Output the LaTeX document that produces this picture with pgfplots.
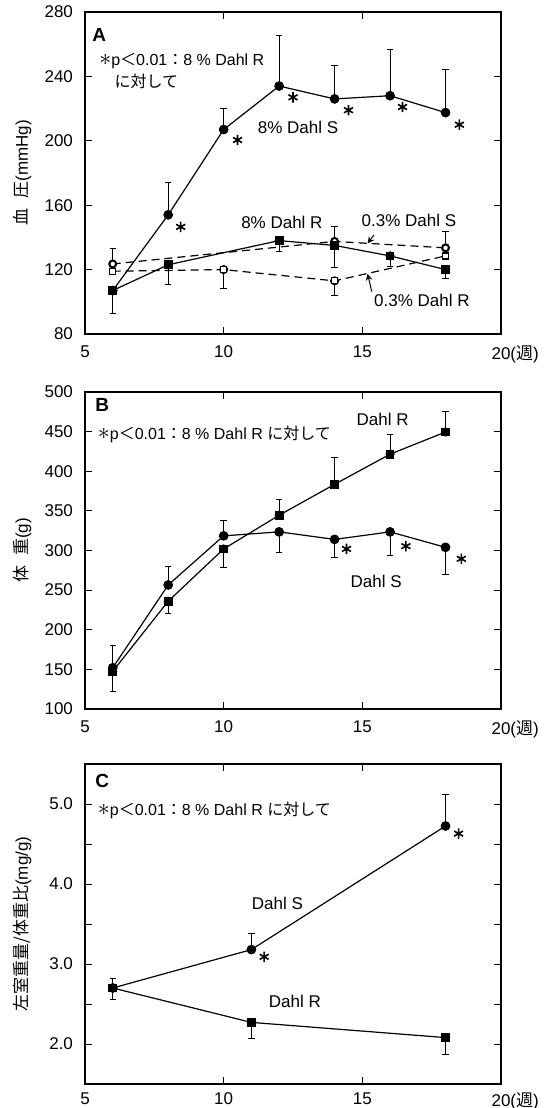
\documentclass[border=0pt]{standalone}
\usepackage{fontspec}
\setmainfont{Liberation Sans}
\newfontfamily\jp{Noto Sans CJK JP}
\usepackage{pgfplots}
\pgfplotsset{compat=1.18}

\newcommand{\sig}{\smash{\fontsize{12}{12}\selectfont$\ast$}}
\newcommand{\note}{\sig p{\jp ＜}0.01{\jp ：}8 \% Dahl R}

\tikzset{
  lab/.style={font=\fontsize{8.5}{10}\selectfont, inner sep=0pt},
  notes/.style={font=\fontsize{8}{10}\selectfont, inner sep=0pt, anchor=west},
  letter/.style={font=\fontsize{9.5}{11}\selectfont\bfseries, inner sep=0pt, anchor=west},
}

\pgfplotsset{
  panel/.style={
    scale only axis,
    width=208pt,
    xmin=5, xmax=20,
    xtick={5,10,15,20},
    xticklabels={5,10,15,{20\rlap{({\jp 週})}}},
    tick align=inside,
    major tick length=3.5pt,
    minor tick length=3.5pt,
    axis line style={line width=0.6pt},
    every tick/.style={line width=0.5pt, black},
    tick label style={font=\fontsize{8.5}{10}\selectfont},
    xticklabel style={yshift=-2.5pt},
    yticklabel style={xshift=-2.5pt},
    /pgf/number format/assume math mode=true,
    ylabel style={at={(axis description cs:-0.15,0.5)}, anchor=center,
                  font=\fontsize{8.5}{10}\selectfont},
    clip=false,
  },
  errs/.style={black, line width=0.5pt, mark=none, only marks, forget plot,
    error bars/.cd, y dir=#1, y explicit,
    error bar style={line width=0.5pt, solid},
    error mark options={rotate=90, mark size=1.6pt, line width=0.5pt}},
  fcirc/.style={black, line width=0.6pt, mark=*, mark size=2.1pt},
  fsq/.style={black, line width=0.6pt, mark=square*, mark size=1.9pt},
  ocirc/.style={black, line width=0.6pt, dash pattern=on 4pt off 2.5pt,
    mark=*, mark size=1.5pt, mark options={solid, fill=white}},
  osq/.style={black, line width=0.6pt, dash pattern=on 4pt off 2.5pt,
    mark=square*, mark size=1.5pt, mark options={solid, fill=white}},
  stars/.style={black, only marks, mark=asterisk, mark size=2.6pt,
    mark options={line width=0.8pt}},
}

\begin{document}
\begin{tikzpicture}
\path[use as bounding box] (0,0) rectangle (274.5pt,554pt);

% ---------- A: blood pressure ----------
\begin{axis}[panel, at={(42.5pt,387pt)}, anchor=south west,
  height=161pt, ymin=80, ymax=280, ytick={80,120,...,280},
  ylabel={{\jp 血\hspace{0.6em}圧}(mmHg)}]
  % error bars
  \addplot[errs=plus] coordinates {
    (8,154) += (0,20) (10,207) += (0,13) (12,234) += (0,31.7)
    (14,226) += (0,21) (16,228) += (0,28.4) (18,217.5) += (0,26.5)
    (6,123.5) += (0,9.5) (14,137.5) += (0,9.5) (18,133.5) += (0,10)};
  \addplot[errs=minus] coordinates {
    (6,107) -= (0,14) (8,123) -= (0,12) (12,138) -= (0,6.5)
    (14,135) -= (0,13.5) (16,128.5) -= (0,6.5) (18,120) -= (0,5.5)
    (10,120) -= (0,11.5) (14,113) -= (0,9)};
  % 0.3% Dahl R
  \addplot[osq] coordinates {(6,119) (10,120) (14,113) (18,128.5)};
  % 0.3% Dahl S
  \addplot[ocirc] coordinates {(6,123.5) (14,137.5) (18,133.5)};
  % 8% Dahl S
  \addplot[fcirc] coordinates {(6,107) (8,154) (10,207) (12,234) (14,226) (16,228) (18,217.5)};
  % 8% Dahl R
  \addplot[fsq] coordinates {(6,107) (8,123) (12,138) (14,135) (16,128.5) (18,120)};
  % significance
  \addplot[stars] coordinates {(8.45,146.5) (10.5,200.5) (12.5,227) (14.5,219) (16.45,221) (18.5,210)};

  \node[letter] at (axis cs:5.25,266) {A};
  \node[notes] at (axis cs:5.5,249.5) {\note};
  \node[notes] at (axis cs:6.05,237) {\jp に対して};
  \node[lab] at (axis cs:12.68,208.6) {8\% Dahl S};
  \node[lab] at (axis cs:12.1,149.4) {8\% Dahl R};
  \node[lab] at (axis cs:16.68,150.4) {0.3\% Dahl S};
  \node[lab] at (axis cs:17.15,101.1) {0.3\% Dahl R};
  \draw[line width=0.5pt, -stealth] (axis cs:15.42,141.5) -- (axis cs:15.19,136.3);
  \draw[line width=0.5pt, -stealth] (axis cs:15.34,106.3) -- (axis cs:15.19,117.4);
\end{axis}

% ---------- B: body weight ----------
\begin{axis}[panel, at={(42.5pt,199.5pt)}, anchor=south west,
  height=158.5pt, ymin=100, ymax=500, ytick={100,150,...,500},
  ylabel={{\jp 体\hspace{0.6em}重}(g)}]
  \addplot[errs=plus] coordinates {
    (6,152) += (0,27.5) (8,256.5) += (0,23) (10,318.5) += (0,19)
    (12,344.5) += (0,20) (14,383.5) += (0,33.5) (16,421.5) += (0,25) (18,449.5) += (0,26)};
  \addplot[errs=minus] coordinates {
    (12,323.5) -= (0,26.5) (14,314) -= (0,23) (16,323.5) -= (0,30) (18,304) -= (0,34)
    (6,147.5) -= (0,26) (8,236) -= (0,15) (10,302) -= (0,24)};
  % Dahl S
  \addplot[fcirc] coordinates {(6,152) (8,256.5) (10,318.5) (12,323.5) (14,314) (16,323.5) (18,304)};
  % Dahl R
  \addplot[fsq] coordinates {(6,147.5) (8,236) (10,302) (12,344.5) (14,383.5) (16,421.5) (18,449.5)};
  \addplot[stars] coordinates {(14.43,302) (16.57,305.5) (18.57,289.5)};

  \node[letter] at (axis cs:5.36,484) {B};
  \node[notes] at (axis cs:5.45,446) {\note\ {\jp に対して}};
  \node[lab] at (axis cs:15.73,465.6) {Dahl R};
  \node[lab] at (axis cs:15.5,260.6) {Dahl S};
\end{axis}

% ---------- C: left ventricular weight / body weight ----------
\begin{axis}[panel, at={(42.5pt,12pt)}, anchor=south west,
  height=160pt, ymin=1.5, ymax=5.5, ytick={2,3,4,5}, minor ytick={2.5,3.5,4.5},
  xticklabel style={yshift=1.5pt},
  yticklabel style={/pgf/number format/.cd, fixed, fixed zerofill, precision=1},
  ylabel={{\jp 左室重量/体重比}(mg/g)}]
  \addplot[errs=plus] coordinates {
    (6,2.70) += (0,0.12) (11,3.18) += (0,0.2) (18,4.725) += (0,0.4)};
  \addplot[errs=minus] coordinates {
    (6,2.70) -= (0,0.14) (11,2.27) -= (0,0.2) (18,2.08) -= (0,0.21)};
  % Dahl S
  \addplot[fcirc] coordinates {(6,2.70) (11,3.18) (18,4.725)};
  % Dahl R
  \addplot[fsq] coordinates {(6,2.70) (11,2.27) (18,2.08)};
  \addplot[stars] coordinates {(11.46,3.09) (18.47,4.63)};

  \node[letter] at (axis cs:5.36,5.29) {C};
  \node[notes] at (axis cs:5.45,4.925) {\note\ {\jp に対して}};
  \node[lab] at (axis cs:11.94,3.76) {Dahl S};
  \node[lab] at (axis cs:12.57,2.53) {Dahl R};
\end{axis}
\end{tikzpicture}
\end{document}
